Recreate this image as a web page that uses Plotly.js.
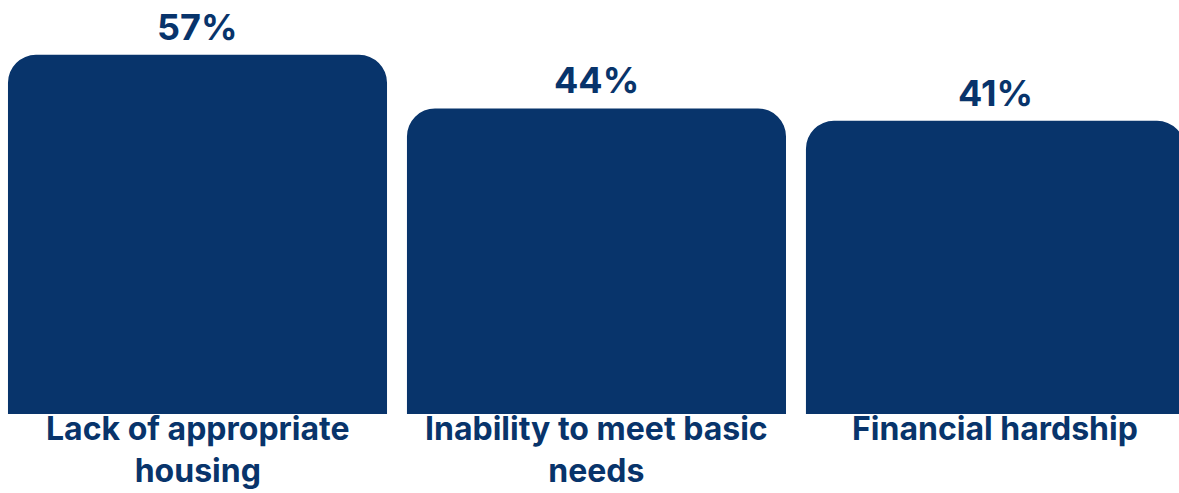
<!DOCTYPE html>
<html>
<head>
<meta charset="utf-8">
<script src="https://cdn.plot.ly/plotly-3.0.1.min.js"></script>
<style>html,body{margin:0;padding:0;background:#fff;}#chart{width:1179px;height:493px;}</style>
</head>
<body>
<div id="chart"></div>
<script>
const categories = ["Lack of appropriate<br>housing", "Inability to meet basic<br>needs", "Financial hardship"];
const values = [57, 44, 41];
const valueLabels = ["57%", "44%", "41%"];

const NAVY = "#08346B";
const FONT = "Inter, 'Open Sans', sans-serif";
const yMin = -30.1, yMax = 70.3, barBase = -60;

const trace = {
  type: "bar",
  x: categories,
  y: values.map(v => v - barBase),
  base: barBase,
  marker: {color: NAVY},
  hoverinfo: "skip"
};

const valueAnnotations = categories.map((c, i) => ({
  x: c, y: values[i], xref: "x", yref: "y",
  text: "<b>" + valueLabels[i] + "</b>",
  showarrow: false, yanchor: "bottom", yshift: 4,
  font: {family: FONT, size: 36, color: NAVY}
}));

const categoryAnnotations = categories.map(c => ({
  x: c, y: 0, xref: "x", yref: "paper",
  text: "<b>" + c + "</b>",
  showarrow: false, yanchor: "top", yshift: 7, align: "center",
  font: {family: FONT, size: 32, color: NAVY}
}));

const layout = {
  width: 1179, height: 493,
  margin: {l: 0, r: 0, t: 0, b: 79},
  paper_bgcolor: "#ffffff", plot_bgcolor: "#ffffff",
  bargap: 0.05,
  barcornerradius: 28,
  showlegend: false,
  xaxis: {
    range: [-0.495, 2.46],
    showgrid: false, zeroline: false, showline: false, ticks: "",
    showticklabels: false,
    fixedrange: true
  },
  yaxis: {range: [yMin, yMax], visible: false, fixedrange: true},
  annotations: valueAnnotations.concat(categoryAnnotations)
};

Plotly.newPlot("chart", [trace], layout, {displayModeBar: false, staticPlot: true});
</script>
</body>
</html>
